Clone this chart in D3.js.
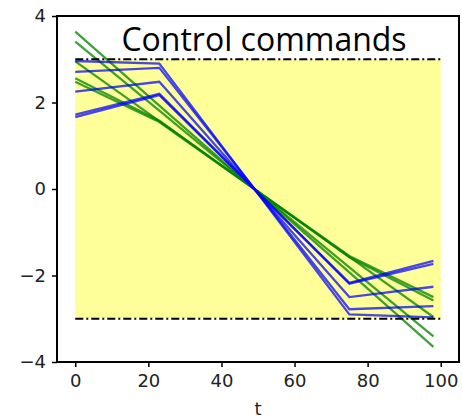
<!DOCTYPE html>
<html>
<head>
<meta charset="utf-8">
<script src="https://cdn.jsdelivr.net/npm/d3@7"></script>
<style>
  html, body { margin: 0; padding: 0; background: #ffffff; }
  svg { display: block; }
</style>
</head>
<body>
<svg id="chart" width="462" height="418"></svg>
<script>
// Time instants where each command trajectory changes slope
const tKnots = [0, 23, 75, 98];

// Saturated command trajectories (blue)
const blue1 = [2.96, 2.90, -2.90, -2.97];
const blue2 = [2.71, 2.80, -2.78, -2.71];
const blue3 = [2.25, 2.48, -2.50, -2.26];
const blue4 = [1.72, 2.20, -2.19, -1.73];
const blue5 = [1.66, 2.17, -2.17, -1.66];

// Unconstrained command trajectories (green)
const green1 = [3.64, 1.93, -1.93, -3.65];
const green2 = [3.41, 1.81, -1.81, -3.41];
const green3 = [2.95, 1.57, -1.57, -2.96];
const green4 = [2.56, 1.58, -1.58, -2.58];
const green5 = [2.48, 1.55, -1.55, -2.50];

// Admissible command band
const bandT = [0, 100];
const bandLimits = [-3, 3];

const xTicks = [0, 20, 40, 60, 80, 100];
const yTicks = [-4, -2, 0, 2, 4];
const titleText = "Control commands";
const xLabel = "t";

const margin = { left: 57, right: 3, top: 16, bottom: 56 };
const W = 462, H = 418;
const svg = d3.select("#chart");

const x = d3.scaleLinear().domain([-5, 105]).range([margin.left, W - margin.right]);
const y = d3.scaleLinear().domain([-4, 4]).range([H - margin.bottom, margin.top]);

// Shaded band between the limits
svg.append("rect")
  .attr("x", x(bandT[0]))
  .attr("y", y(bandLimits[1]))
  .attr("width", x(bandT[1]) - x(bandT[0]))
  .attr("height", y(bandLimits[0]) - y(bandLimits[1]))
  .attr("fill", "#ffff99");

const line = d3.line().x((d, i) => x(tKnots[i])).y(d => y(d));

const greens = [green1, green2, green3, green4, green5];
const blues = [blue1, blue2, blue3, blue4, blue5];

svg.append("g").selectAll("path").data(greens).join("path")
  .attr("d", line)
  .attr("fill", "none")
  .attr("stroke", "#008000")
  .attr("stroke-opacity", 0.75)
  .attr("stroke-width", 2.3);

svg.append("g").selectAll("path").data(blues).join("path")
  .attr("d", line)
  .attr("fill", "none")
  .attr("stroke", "#0000ff")
  .attr("stroke-opacity", 0.72)
  .attr("stroke-width", 2.3);

// Limit lines (dash-dot)
svg.append("g").selectAll("line").data(bandLimits).join("line")
  .attr("x1", x(bandT[0]))
  .attr("x2", x(bandT[1]))
  .attr("y1", d => y(d))
  .attr("y2", d => y(d))
  .attr("stroke", "#000")
  .attr("stroke-width", 2.2)
  .attr("stroke-dasharray", "8,3,2,3");

// Axes
const fmt = d3.format("");
const xAxis = d3.axisBottom(x).tickValues(xTicks).tickFormat(fmt).tickSize(5).tickPadding(7);
const yAxis = d3.axisLeft(y).tickValues(yTicks).tickFormat(fmt).tickSize(5).tickPadding(6);

const gx = svg.append("g").attr("transform", `translate(0,${H - margin.bottom})`).call(xAxis);
const gy = svg.append("g").attr("transform", `translate(${margin.left},0)`).call(yAxis);
[gx, gy].forEach(g => {
  g.select(".domain").remove();
  g.selectAll(".tick line").attr("stroke", "#000").attr("stroke-width", 1.5);
  g.selectAll(".tick text")
    .attr("fill", "#222")
    .style("font-family", "DejaVu Sans, sans-serif")
    .style("font-size", "18px");
});

// Frame
svg.append("rect")
  .attr("x", margin.left)
  .attr("y", margin.top)
  .attr("width", W - margin.right - margin.left)
  .attr("height", H - margin.bottom - margin.top)
  .attr("fill", "none")
  .attr("stroke", "#000")
  .attr("stroke-width", 2);

// Axis label
svg.append("text")
  .attr("x", (margin.left + W - margin.right) / 2)
  .attr("y", 415)
  .attr("text-anchor", "middle")
  .attr("fill", "#222")
  .style("font-family", "DejaVu Sans, sans-serif")
  .style("font-size", "18px")
  .text(xLabel);

// Title inside the plot area
svg.append("text")
  .attr("x", 264)
  .attr("y", 51)
  .attr("text-anchor", "middle")
  .attr("fill", "#000")
  .style("font-family", "Open Sans, sans-serif")
  .style("font-size", "32px")
  .text(titleText);
</script>
</body>
</html>
